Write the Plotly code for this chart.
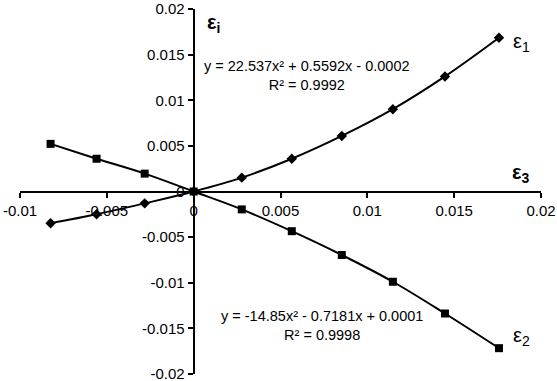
import plotly.graph_objects as go

# data
eps3 = [-0.00824, -0.00559, -0.00282, 0.0, 0.00277, 0.00565, 0.00853, 0.01147, 0.01447, 0.01758]
eps1 = [-0.00348, -0.00250, -0.00130, 0.0, 0.00152, 0.00359, 0.00609, 0.00902, 0.01261, 0.01685]
eps2 = [0.00522, 0.00359, 0.00196, 0.0, -0.00196, -0.00435, -0.00696, -0.00989, -0.01337, -0.01717]

x_ticks = [-0.01, -0.005, 0, 0.005, 0.01, 0.015, 0.02]
x_tick_text = ["-0.01", "-0.005", "0", "0.005", "0.01", "0.015", "0.02"]
y_ticks = [-0.02, -0.015, -0.01, -0.005, 0, 0.005, 0.01, 0.015, 0.02]
y_tick_text = ["-0.02", "-0.015", "-0.01", "-0.005", "0", "0.005", "0.01", "0.015", "0.02"]

FONT = "Liberation Sans, Arial, sans-serif"

fig = go.Figure()
fig.add_trace(go.Scatter(
    x=eps3, y=eps1, mode="lines+markers",
    line=dict(color="black", width=2, shape="spline"),
    marker=dict(symbol="diamond", size=8, color="black"),
    showlegend=False, hoverinfo="skip"))
fig.add_trace(go.Scatter(
    x=eps3, y=eps2, mode="lines+markers",
    line=dict(color="black", width=2, shape="spline"),
    marker=dict(symbol="square", size=8, color="black"),
    showlegend=False, hoverinfo="skip"))

annots = [
    dict(x=0.00651, y=0.01272, text="y = 22.537x² + 0.5592x - 0.0002<br>R² = 0.9992", size=14.5),
    dict(x=0.00738, y=-0.01467, text="y = -14.85x² - 0.7181x + 0.0001<br>R² = 0.9998", size=14.5),
    dict(x=0.01885, y=0.01630, text="ε<sub>1</sub>", size=20),
    dict(x=0.01885, y=-0.0159, text="ε<sub>2</sub>", size=20),
    dict(x=0.01885, y=0.00196, text="<b>ε<sub>3</sub></b>", size=20),
    dict(x=0.00115, y=0.01837, text="<b>ε<sub>i</sub></b>", size=20),
]
for a in annots:
    fig.add_annotation(x=a["x"], y=a["y"], text=a["text"], showarrow=False,
                       xref="x", yref="y", align="center",
                       font=dict(family=FONT, color="black", size=a["size"]))

axis_common = dict(showgrid=False, zeroline=False, showline=True, linecolor="black",
                   linewidth=2, ticks="outside", ticklen=5, tickwidth=2,
                   tickcolor="black", automargin=False, tickfont=dict(size=15),
                   ticklabeloverflow="allow", anchor="free")

fig.update_layout(
    width=557, height=381,
    margin=dict(l=20, r=16, t=9, b=7),
    paper_bgcolor="white", plot_bgcolor="white",
    font=dict(family=FONT, color="black", size=15),
    xaxis=dict(range=[-0.01, 0.02], tickvals=x_ticks, ticktext=x_tick_text,
               position=0.5, **axis_common),
    yaxis=dict(range=[-0.02, 0.02], tickvals=y_ticks, ticktext=y_tick_text,
               position=1/3, **axis_common),
)

fig.write_html("out.html", config={"displayModeBar": False},
               post_script="document.body.style.margin='0';")
